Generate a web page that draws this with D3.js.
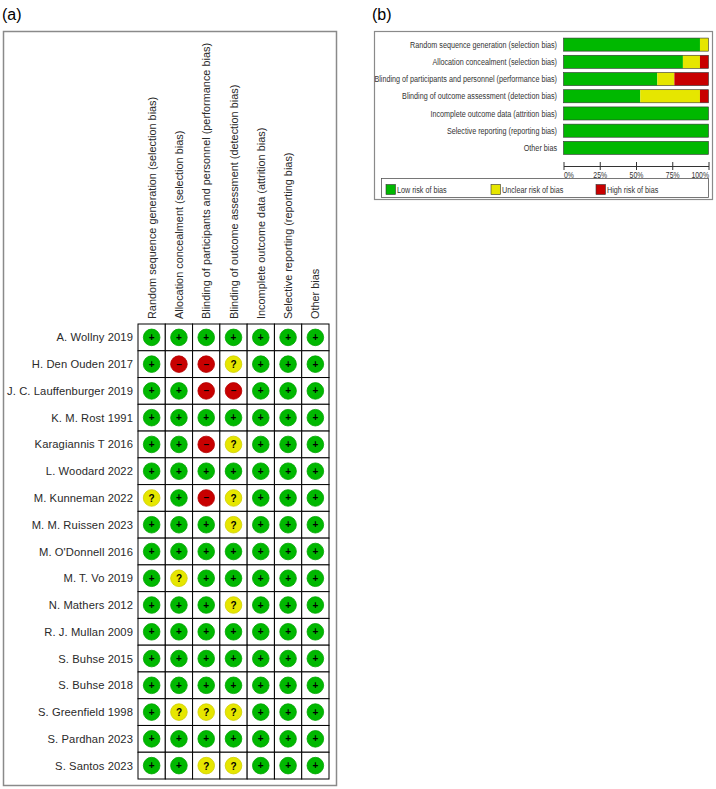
<!DOCTYPE html>
<html>
<head>
<meta charset="utf-8">
<script src="https://cdn.jsdelivr.net/npm/d3@7"></script>
<style>
  body { margin: 0; background: #fff; }
  svg { display: block; font-family: "Liberation Sans", Arial, sans-serif; }
</style>
</head>
<body>
<div id="chart"></div>
<script>
// Bias domains (columns of panel a, rows of panel b)
var domains = [
  "Random sequence generation (selection bias)",
  "Allocation concealment (selection bias)",
  "Blinding of participants and personnel (performance bias)",
  "Blinding of outcome assessment (detection bias)",
  "Incomplete outcome data (attrition bias)",
  "Selective reporting (reporting bias)",
  "Other bias"
];

var studies = [
  "A. Wollny 2019", "H. Den Ouden 2017", "J. C. Lauffenburger 2019", "K. M. Rost 1991",
  "Karagiannis T 2016", "L. Woodard 2022", "M. Kunneman 2022", "M. M. Ruissen 2023",
  "M. O'Donnell 2016", "M. T. Vo 2019", "N. Mathers 2012", "R. J. Mullan 2009",
  "S. Buhse 2015", "S. Buhse 2018", "S. Greenfield 1998", "S. Pardhan 2023", "S. Santos 2023"
];

// judgement per study, one char per domain: + low, ? unclear, - high
var judgements = [
  "+++++++", "+--?+++", "++--+++", "+++++++",
  "++-?+++", "+++++++", "?+-?+++", "+++?+++",
  "+++++++", "+?+++++", "+++?+++", "+++++++",
  "+++++++", "+++++++", "+???+++", "+++++++", "++??+++"
];

var riskLevels = ["+", "?", "-"];
var riskNames = ["Low risk of bias", "Unclear risk of bias", "High risk of bias"];
var riskColors = ["#00b800", "#e6e600", "#c80000"];
var axisTicks = [0, 0.25, 0.5, 0.75, 1];

var svg = d3.select("#chart").append("svg").attr("width", 716).attr("height", 789);
var color = d3.scaleOrdinal().domain(riskLevels).range(riskColors);

// ---------- panel (a) ----------
svg.append("text").attr("x", 2).attr("y", 20).attr("font-size", 16).text("(a)");
svg.append("rect").attr("x", 3.5).attr("y", 31.5).attr("width", 333).attr("height", 754)
  .attr("fill", "none").attr("stroke", "#8a8a8a").attr("stroke-width", 1.5);

var xCol = d3.scaleBand().domain(d3.range(domains.length)).range([138, 329]);
var yRow = d3.scaleBand().domain(d3.range(studies.length)).range([324, 779]);

var gridG = svg.append("g");

// cell borders
studies.forEach(function(s, i) {
  domains.forEach(function(d, j) {
    gridG.append("rect")
      .attr("x", xCol(j)).attr("y", yRow(i))
      .attr("width", xCol.bandwidth()).attr("height", yRow.bandwidth())
      .attr("fill", "#fff").attr("stroke", "#000").attr("stroke-width", 1);
  });
});

// study labels
gridG.selectAll(".study").data(studies).enter().append("text")
  .attr("x", 133).attr("y", function(d, i) { return yRow(i) + yRow.bandwidth() / 2 + 4; })
  .attr("text-anchor", "end").attr("font-size", 11.2).attr("fill", "#2a2a2a")
  .attr("letter-spacing", 0.1)
  .text(function(d) { return d; });

// domain headers (rotated)
gridG.selectAll(".dom").data(domains).enter().append("text")
  .attr("transform", function(d, j) {
    return "translate(" + (xCol(j) + xCol.bandwidth() / 2 + 4) + ",319) rotate(-90)";
  })
  .attr("font-size", 10.9).attr("fill", "#2a2a2a")
  .text(function(d) { return d; });

// judgement dots
var cells = [];
judgements.forEach(function(row, i) {
  row.split("").forEach(function(v, j) { cells.push({ i: i, j: j, v: v }); });
});

var dot = gridG.selectAll(".dot").data(cells).enter().append("g")
  .attr("transform", function(c) {
    return "translate(" + (xCol(c.j) + xCol.bandwidth() / 2) + "," + (yRow(c.i) + yRow.bandwidth() / 2) + ")";
  });
dot.append("circle").attr("r", 8.3)
  .attr("fill", function(c) { return color(c.v); })
  .attr("stroke", function(c) { return d3.color(color(c.v)).darker(0.3); })
  .attr("stroke-width", 0.8);
dot.append("text")
  .attr("text-anchor", "middle")
  .attr("y", function(c) { return c.v === "?" ? 4 : 3.5; })
  .attr("font-size", 10)
  .attr("font-weight", "bold").attr("fill", "#000")
  .text(function(c) { return c.v === "-" ? "\u2013" : c.v; });

// ---------- panel (b) ----------
svg.append("text").attr("x", 372).attr("y", 20).attr("font-size", 16).text("(b)");
svg.append("rect").attr("x", 374.5).attr("y", 31.5).attr("width", 338).attr("height", 168)
  .attr("fill", "none").attr("stroke", "#8a8a8a").attr("stroke-width", 1.2);

// share of studies per judgement, per domain
var summary = domains.map(function(d, j) {
  var obj = { domain: d };
  riskLevels.forEach(function(r) {
    obj[r] = judgements.filter(function(row) { return row[j] === r; }).length / judgements.length;
  });
  return obj;
});

var stack = d3.stack().keys(riskLevels)(summary);

var xPct = d3.scaleLinear().domain([0, 1]).range([563.5, 708.5]);
var yBar = d3.scaleBand().domain(domains).range([36, 156.5]).paddingInner(0.24).paddingOuter(0.12);

var barG = svg.append("g");
barG.selectAll(".layer").data(stack).enter().append("g")
  .attr("fill", function(d) { return color(d.key); })
  .selectAll("rect").data(function(d) { return d; }).enter().append("rect")
  .attr("x", function(d) { return xPct(d[0]); })
  .attr("width", function(d) { return xPct(d[1]) - xPct(d[0]); })
  .attr("y", function(d) { return yBar(d.data.domain); })
  .attr("height", yBar.bandwidth());

// bar outlines
barG.selectAll(".outline").data(domains).enter().append("rect")
  .attr("x", xPct(0)).attr("width", xPct(1) - xPct(0))
  .attr("y", function(d) { return yBar(d); }).attr("height", yBar.bandwidth())
  .attr("fill", "none").attr("stroke", "#333").attr("stroke-width", 0.6);

// narrow label font, like the original bitmap text
var squeeze = 0.82;
barG.selectAll(".blabel").data(domains).enter().append("text")
  .attr("transform", function(d) {
    return "translate(557," + (yBar(d) + yBar.bandwidth() / 2 + 3.2) + ") scale(" + squeeze + ",1)";
  })
  .attr("text-anchor", "end").attr("font-size", 8.8).attr("fill", "#333")
  .text(function(d) { return d; });

var axis = d3.axisBottom(xPct).tickValues(axisTicks)
  .tickFormat(function(d) { return Math.round(d * 100) + "%"; })
  .tickSize(4).tickSizeOuter(0);
var axG = svg.append("g").attr("transform", "translate(0,166)").call(axis);
axG.select(".domain").attr("stroke", "#333");
axG.selectAll(".tick line").attr("y1", -4).attr("y2", 4).attr("stroke", "#333");
axG.selectAll(".tick text").attr("font-size", 8.4).attr("fill", "#333").attr("y", 6)
  .attr("font-family", "Liberation Sans, Arial, sans-serif")
  .attr("text-anchor", function(d, k) { return k === 0 ? "start" : (k === axisTicks.length - 1 ? "end" : "middle"); })
  .attr("transform", "scale(" + squeeze + ",1)")
  .attr("x", function(d, k) { return 0; });

// legend
svg.append("rect").attr("x", 381.5).attr("y", 178.5).attr("width", 327).attr("height", 19)
  .attr("fill", "none").attr("stroke", "#555").attr("stroke-width", 0.8);
var legX = [386, 491, 596];
var leg = svg.selectAll(".leg").data(riskLevels).enter().append("g")
  .attr("transform", function(d, k) { return "translate(" + legX[k] + ",184.5)"; });
leg.append("rect").attr("width", 9.5).attr("height", 10)
  .attr("fill", function(d) { return color(d); }).attr("stroke", "#333").attr("stroke-width", 0.6);
leg.append("text").attr("transform", "translate(11,8.5) scale(" + squeeze + ",1)")
  .attr("font-size", 8.8).attr("fill", "#333")
  .text(function(d, k) { return riskNames[k]; });
</script>
</body>
</html>
